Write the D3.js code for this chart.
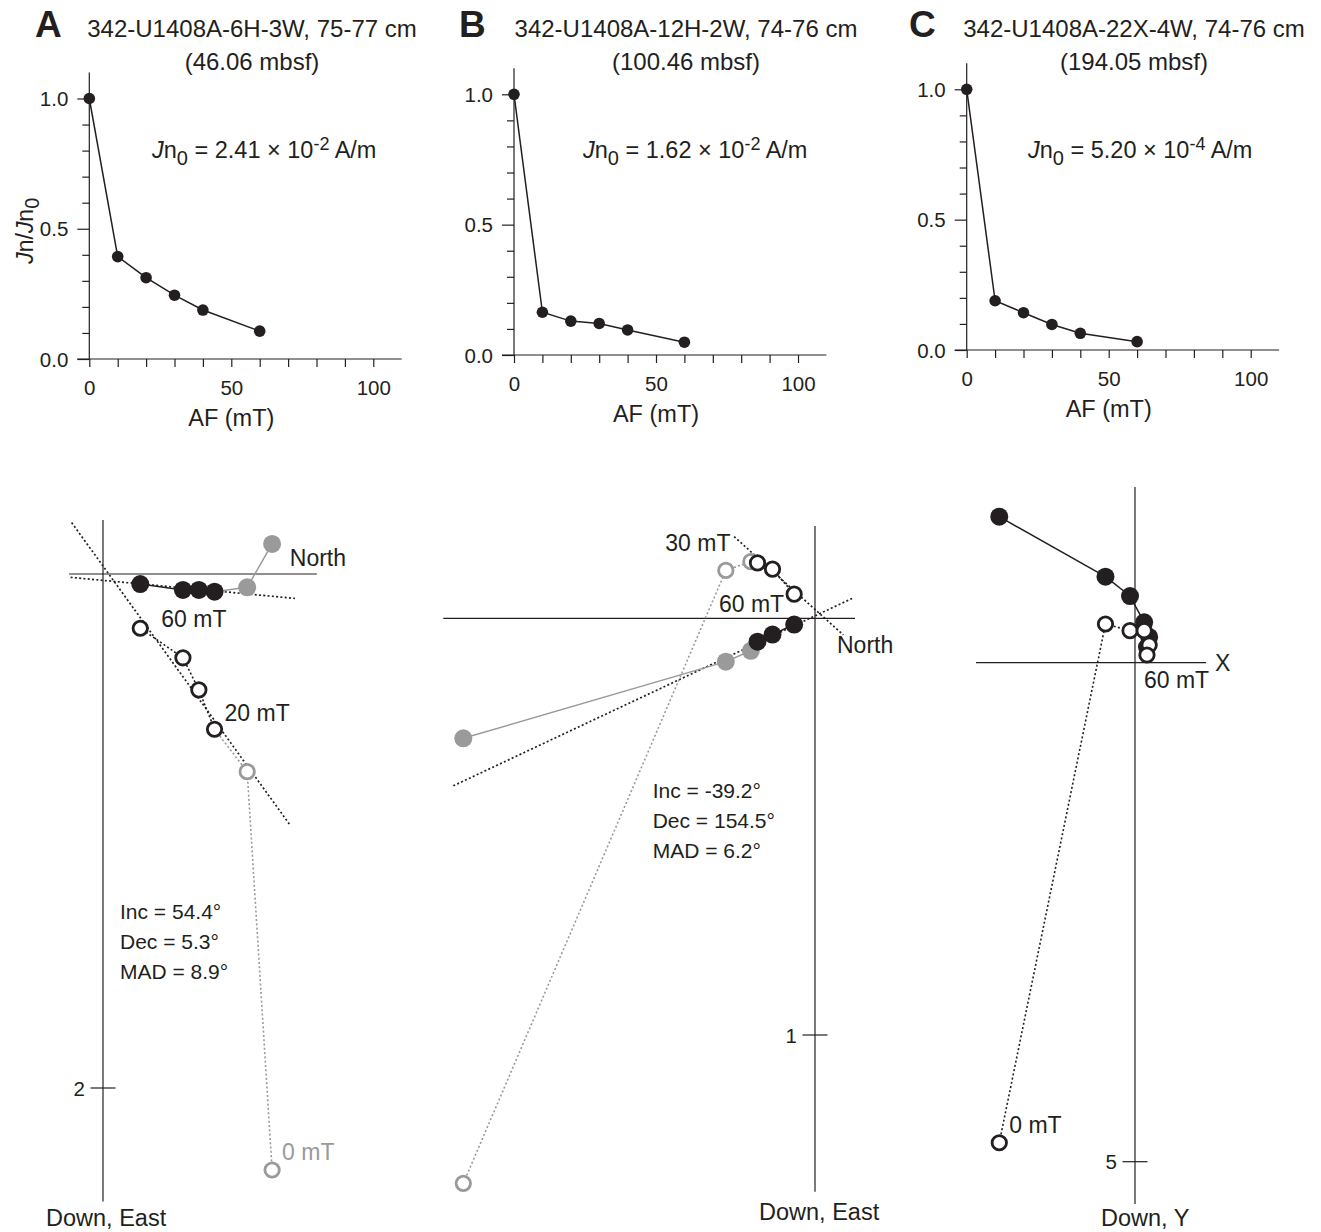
<!DOCTYPE html>
<html><head><meta charset="utf-8">
<script src="https://cdn.jsdelivr.net/npm/d3@7"></script>
<style>
body{margin:0;background:#fff}
svg{display:block;font-family:"Liberation Sans",Arial,Helvetica,sans-serif}
</style></head><body>
<svg id="c" width="1321" height="1232"></svg>
<script>
// ================= DATA =================
const panelLetters = ["A", "B", "C"];
const sampleIds = ["342-U1408A-6H-3W, 75-77 cm", "342-U1408A-12H-2W, 74-76 cm", "342-U1408A-22X-4W, 74-76 cm"];
const sampleDepths = ["(46.06 mbsf)", "(100.46 mbsf)", "(194.05 mbsf)"];
const jn0Mantissa = ["2.41", "1.62", "5.20"];
const jn0Exponent = ["-2", "-2", "-4"];

// AF demagnetization steps (mT)
const afSteps = [0, 10, 20, 30, 40, 60];
const xTickValues = [0, 10, 20, 30, 40, 50, 60, 70, 80, 90, 100];
const xTickLabels = [0, 50, 100];
const yTickValues = [0, 0.1, 0.2, 0.3, 0.4, 0.5, 0.6, 0.7, 0.8, 0.9, 1.0];
const yTickLabels = [0, 0.5, 1.0];

// Normalized intensity Jn/Jn0
const jnA = [1.0, 0.393, 0.312, 0.245, 0.188, 0.107];
const jnB = [1.0, 0.164, 0.130, 0.121, 0.096, 0.049];
const jnC = [1.0, 0.189, 0.143, 0.098, 0.064, 0.032];

// Zijderveld A (x10^-2 A/m): North, East, Down
const zijA_north = [0.658, 0.561, 0.434, 0.373, 0.311, 0.145];
const zijA_east  = [-0.117, 0.052, 0.069, 0.062, 0.062, 0.039];
const zijA_down  = [2.319, 0.769, 0.604, 0.451, 0.326, 0.211];
const zijA_grayCount = 2;
const zijA_fitHorizontal = [[-0.126, 0.013], [0.747, 0.095]];
const zijA_fitVertical   = [[-0.122, -0.200], [0.728, 0.977]];
const zijA_stats = ["Inc = 54.4°", "Dec = 5.3°", "MAD = 8.9°"];
const zijA_tick = [2];

// Zijderveld B (x10^-2 A/m)
const zijB_north = [-0.844, -0.214, -0.154, -0.138, -0.102, -0.050];
const zijB_east  = [0.288, 0.104, 0.078, 0.056, 0.039, 0.015];
const zijB_down  = [1.356, -0.115, -0.136, -0.133, -0.118, -0.058];
const zijB_grayCount = 3;
const zijB_fitHorizontal = [[-0.868, 0.402], [0.094, -0.050]];
const zijB_fitVertical   = [[-0.194, -0.196], [0.068, 0.040]];
const zijB_stats = ["Inc = -39.2°", "Dec = 154.5°", "MAD = 6.2°"];
const zijB_tick = [1];

// Zijderveld C (x10^-4 A/m): X, Y, Down
const zijC_x    = [-1.360, -0.296, -0.050, 0.092, 0.142, 0.120];
const zijC_y    = [-1.463, -0.862, -0.668, -0.405, -0.258, -0.157];
const zijC_down = [4.810, -0.388, -0.321, -0.321, -0.177, -0.077];
const zijC_grayCount = 0;
const zijC_stats = [];
const zijC_tick = [5];

// ================= LAYOUT / STYLE =================
const INK = "#231f20", GRAY = "#9a9a9a";
const FONT = 23;
const topLayout = [
  {x0: 89.3, x100: 373.3, y0: 359, y1: 98.5, letterX: 35, titleX: 252, jnX: 152, yLabel: true},
  {x0: 514, x100: 798, y0: 355, y1: 94.3, letterX: 459, titleX: 686, jnX: 583, yLabel: false},
  {x0: 966.7, x100: 1250.7, y0: 350, y1: 89.3, letterX: 909, titleX: 1134, jnX: 1028, yLabel: false}
];
const zijLayout = [
  {ox: 103, oy: 574, ppu: 257, h: [-0.132, 0.832], v: [-0.21, 2.442],
   hLabel: {text: "North", dx: -27, dy: -8}, vLabel: {text: "Down, East", dx: -57, y: 1226},
   stepLabels: [{i: 5, text: "60 mT", dx: 21, dy: -1.6, anchor: "start", gray: false},
                {i: 2, text: "20 mT", dx: 10, dy: -8.6, anchor: "start", gray: false},
                {i: 0, text: "0 mT", dx: 10, dy: -10, anchor: "start", gray: true}],
   statsX: 120, statsY: 919},
  {ox: 815, oy: 618.3, ppu: 416.7, h: [-0.892, 0.096], v: [-0.2215, 1.376],
   hLabel: {text: "North", dx: -18, dy: 35}, vLabel: {text: "Down, East", dx: -56, y: 1220},
   stepLabels: [{i: 3, text: "30 mT", dx: -27, dy: -12, anchor: "end", gray: false},
                {i: 5, text: "60 mT", dx: -10, dy: 17.4, anchor: "end", gray: false}],
   statsX: 652.7, statsY: 798.3},
  {ox: 1135, oy: 662.7, ppu: 99.8, h: [-1.593, 0.711], v: [-1.76, 5.424],
   hLabel: {text: "X", dx: 9, dy: 8}, vLabel: {text: "Down, Y", dx: -34, y: 1226},
   stepLabels: [{i: 5, text: "60 mT", dx: -3, dy: 33.3, anchor: "start", gray: false},
                {i: 0, text: "0 mT", dx: 10, dy: -10, anchor: "start", gray: false}],
   statsX: 0, statsY: 0}
];

const svg = d3.select("#c");

// ================= TOP DECAY PLOTS =================
function drawDecay(k, values) {
  const L = topLayout[k];
  const g = svg.append("g");
  const x = d3.scaleLinear().domain([0, 100]).range([L.x0, L.x100]);
  const y = d3.scaleLinear().domain([0, 1]).range([L.y0, L.y1]);

  // titles
  g.append("text").attr("x", L.letterX).attr("y", 37).attr("font-size", 37).attr("font-weight", "bold")
    .attr("fill", INK).text(panelLetters[k]);
  g.append("text").attr("x", L.titleX).attr("y", 37).attr("font-size", 24).attr("text-anchor", "middle")
    .attr("fill", INK).text(sampleIds[k]);
  g.append("text").attr("x", L.titleX).attr("y", 70).attr("font-size", 24).attr("text-anchor", "middle")
    .attr("fill", INK).text(sampleDepths[k]);

  // x axis
  const gx = g.append("g").attr("transform", `translate(0,${L.y0})`)
    .call(d3.axisBottom(x).tickValues(xTickValues).tickSize(8).tickSizeOuter(0)
      .tickFormat(d => xTickLabels.includes(d) ? d : ""));
  gx.select(".domain").remove();
  gx.selectAll("line").attr("stroke", INK).attr("stroke-width", 1.2);
  gx.selectAll("text").attr("y", 36).attr("dy", 0).attr("font-size", 20.5)
    .attr("font-family", null).attr("fill", INK);
  g.append("line").attr("x1", L.x0 - 12).attr("x2", x(110)).attr("y1", L.y0).attr("y2", L.y0)
    .attr("stroke", INK).attr("stroke-width", 1.2);

  // y axis
  const gy = g.append("g").attr("transform", `translate(${L.x0},0)`)
    .call(d3.axisLeft(y).tickValues(yTickValues).tickSize(7).tickSizeOuter(0)
      .tickFormat(d => yTickLabels.some(v => Math.abs(v - d) < 1e-9) ? d3.format(".1f")(d) : ""));
  gy.select(".domain").remove();
  gy.selectAll(".tick line").attr("stroke", INK).attr("stroke-width", 1.2)
    .attr("x2", d => yTickLabels.some(v => Math.abs(v - d) < 1e-9) ? -12 : -7);
  gy.selectAll("text").attr("x", -21).attr("dy", "0.35em").attr("font-size", 20.5)
    .attr("font-family", null).attr("fill", INK);
  g.append("line").attr("x1", L.x0).attr("x2", L.x0).attr("y1", L.y0).attr("y2", y(1.1))
    .attr("stroke", INK).attr("stroke-width", 1.2);

  // x label
  g.append("text").attr("x", x(50)).attr("y", L.y0 + 67).attr("text-anchor", "middle")
    .attr("font-size", 23.5).attr("fill", INK).text("AF (mT)");

  if (L.yLabel) {
    const t = g.append("text").attr("transform", `translate(33,${(L.y0 + L.y1) / 2 + 2}) rotate(-90)`)
      .attr("text-anchor", "middle").attr("font-size", FONT).attr("fill", INK);
    t.append("tspan").attr("font-style", "italic").text("J");
    t.append("tspan").text("n/");
    t.append("tspan").attr("font-style", "italic").text("J");
    t.append("tspan").text("n");
    t.append("tspan").attr("dy", 6).attr("font-size", 20).text("0");
  }

  // Jn0 annotation
  const j = g.append("text").attr("x", L.jnX).attr("y", 158).attr("font-size", 23.5).attr("fill", INK);
  j.append("tspan").attr("font-style", "italic").text("J");
  j.append("tspan").text("n");
  j.append("tspan").attr("dy", 7).attr("font-size", 20).text("0");
  j.append("tspan").attr("dy", -7).text(" = " + jn0Mantissa[k] + " \u00d7 10");
  j.append("tspan").attr("dy", -8).attr("font-size", 18).text(jn0Exponent[k]);
  j.append("tspan").attr("dy", 8).text(" A/m");

  // data
  const pts = afSteps.map((s, i) => [s, values[i]]);
  g.append("path").datum(pts)
    .attr("d", d3.line().x(d => x(d[0])).y(d => y(d[1])))
    .attr("fill", "none").attr("stroke", INK).attr("stroke-width", 1.5);
  g.selectAll("circle.dot").data(pts).join("circle").attr("class", "dot")
    .attr("cx", d => x(d[0])).attr("cy", d => y(d[1])).attr("r", 5.8).attr("fill", INK);
}

drawDecay(0, jnA);
drawDecay(1, jnB);
drawDecay(2, jnC);

// ================= ZIJDERVELD PLOTS =================
function drawZij(k, hor, horVert, down, grayCount, fitH, fitV, stats, tickVals) {
  const L = zijLayout[k];
  const g = svg.append("g");
  const x = d3.scaleLinear().domain([0, 1]).range([L.ox, L.ox + L.ppu]);
  const y = d3.scaleLinear().domain([0, 1]).range([L.oy, L.oy + L.ppu]);

  // axes
  g.append("line").attr("x1", x(L.h[0])).attr("x2", x(L.h[1])).attr("y1", y(0)).attr("y2", y(0))
    .attr("stroke", INK).attr("stroke-width", 1.2);
  g.append("line").attr("x1", x(0)).attr("x2", x(0)).attr("y1", y(L.v[0])).attr("y2", y(L.v[1]))
    .attr("stroke", INK).attr("stroke-width", 1.2);
  tickVals.forEach(t => {
    g.append("line").attr("x1", x(0) - 12.5).attr("x2", x(0) + 12.5).attr("y1", y(t)).attr("y2", y(t))
      .attr("stroke", INK).attr("stroke-width", 1.2);
    g.append("text").attr("x", x(0) - 18).attr("y", y(t) + 7.5).attr("text-anchor", "end")
      .attr("font-size", 20.5).attr("fill", INK).text(t);
  });
  g.append("text").attr("x", x(L.h[1]) + L.hLabel.dx).attr("y", y(0) + L.hLabel.dy)
    .attr("font-size", FONT).attr("fill", INK).text(L.hLabel.text);
  g.append("text").attr("x", x(0) + L.vLabel.dx).attr("y", L.vLabel.y)
    .attr("font-size", 23.5).attr("fill", INK).text(L.vLabel.text);

  // fit lines
  [fitH, fitV].forEach(f => {
    if (!f) return;
    g.append("line").attr("x1", x(f[0][0])).attr("y1", y(f[0][1]))
      .attr("x2", x(f[1][0])).attr("y2", y(f[1][1]))
      .attr("stroke", INK).attr("stroke-width", 1.7).attr("stroke-dasharray", "2,2.3");
  });

  const hp = hor.map((n, i) => ({x: n, y: horVert[i], gray: i < grayCount}));
  const vp = hor.map((n, i) => ({x: n, y: down[i], gray: i < grayCount}));

  // connecting segments
  for (let i = 0; i < hp.length - 1; i++) {
    g.append("line").attr("x1", x(hp[i].x)).attr("y1", y(hp[i].y))
      .attr("x2", x(hp[i + 1].x)).attr("y2", y(hp[i + 1].y))
      .attr("stroke", hp[i].gray ? GRAY : INK).attr("stroke-width", 1.5);
    g.append("line").attr("x1", x(vp[i].x)).attr("y1", y(vp[i].y))
      .attr("x2", x(vp[i + 1].x)).attr("y2", y(vp[i + 1].y))
      .attr("stroke", vp[i].gray ? GRAY : INK).attr("stroke-width", 1.6)
      .attr("stroke-dasharray", "2,2.3");
  }

  // horizontal projection (solid)
  g.selectAll("circle.h").data(hp).join("circle").attr("class", "h")
    .attr("cx", d => x(d.x)).attr("cy", d => y(d.y)).attr("r", 9)
    .attr("fill", d => d.gray ? GRAY : INK);
  // vertical projection (open)
  g.selectAll("circle.v").data(vp).join("circle").attr("class", "v")
    .attr("cx", d => x(d.x)).attr("cy", d => y(d.y)).attr("r", 7.2)
    .attr("fill", "#fff").attr("stroke", d => d.gray ? GRAY : INK).attr("stroke-width", 2.8);

  // step labels
  L.stepLabels.forEach(s => {
    g.append("text").attr("x", x(vp[s.i].x) + s.dx).attr("y", y(vp[s.i].y) + s.dy)
      .attr("text-anchor", s.anchor).attr("font-size", FONT)
      .attr("fill", s.gray ? GRAY : INK).text(s.text);
  });

  // stats
  stats.forEach((s, i) => {
    g.append("text").attr("x", L.statsX).attr("y", L.statsY + i * 30)
      .attr("font-size", 21).attr("fill", INK).text(s);
  });
}

drawZij(0, zijA_north, zijA_east, zijA_down, zijA_grayCount, zijA_fitHorizontal, zijA_fitVertical, zijA_stats, zijA_tick);
drawZij(1, zijB_north, zijB_east, zijB_down, zijB_grayCount, zijB_fitHorizontal, zijB_fitVertical, zijB_stats, zijB_tick);
drawZij(2, zijC_x, zijC_y, zijC_down, zijC_grayCount, null, null, zijC_stats, zijC_tick);
</script>
</body></html>
